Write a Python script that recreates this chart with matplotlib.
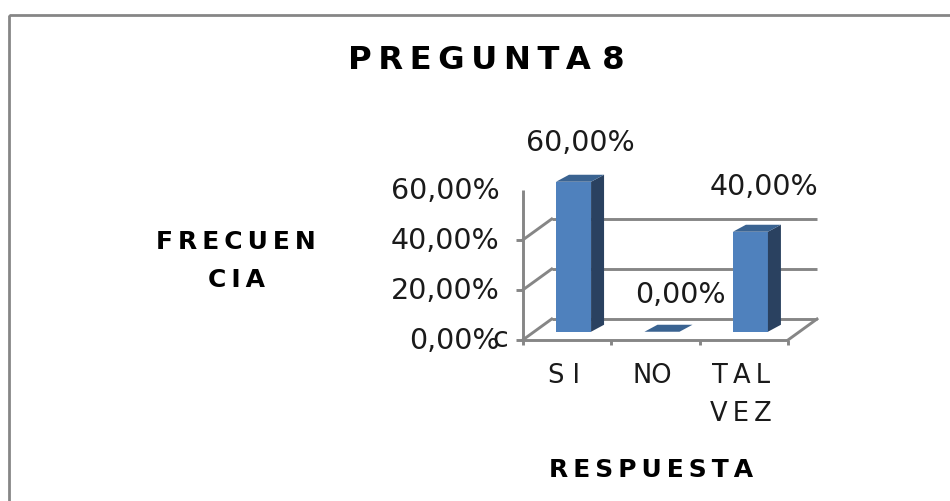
import matplotlib
matplotlib.use("Agg")
import matplotlib.pyplot as plt
from matplotlib.patches import Polygon, Rectangle

categories = ["S I", "NO", "T\u2009A\u2009L\nV\u2009E\u2009Z"]
values = [0.60, 0.00, 0.40]
value_labels = ["60,00%", "0,00%", "40,00%"]
y_ticks = [0.0, 0.2, 0.4, 0.6]
y_tick_labels = ["0,00%", "20,00%", "40,00%", "60,00%"]

W, H = 950, 501
fig = plt.figure(figsize=(W / 100, H / 100), dpi=100, facecolor="white")

# outer frame of the chart, it runs off the image on the right and bottom
bg = fig.add_axes([0, 0, 1, 1])
bg.set_xlim(0, W)
bg.set_ylim(H, 0)
bg.axis("off")
bg.add_patch(Rectangle((8.7, 14.5), 1000, 600, fill=False, ec="#868686", lw=2.0))

# axes = front plane of the 3d box
left, right, bottom, top = 522.7, 788, 340, 190
ax = fig.add_axes([left / W, 1 - bottom / H, (right - left) / W, (bottom - top) / H])
ax.set_xlim(0, 3)
ax.set_ylim(0, 0.6)
ax.patch.set_alpha(0)
for s in ax.spines.values():
    s.set_visible(False)
ax.set_xticks([])
ax.set_yticks([])

# depth of the box in data units
depth_x = 29 / (right - left) * 3
depth_y = 21 / (bottom - top) * 0.6
grid_c = "#868686"
lw = 2.1

# back gridlines and the side lines
for t in y_ticks[:3]:
    ax.plot([depth_x, 3 + depth_x], [t + depth_y, t + depth_y], color=grid_c, lw=lw, clip_on=False, solid_capstyle="butt")
    ax.plot([0, depth_x], [t, t + depth_y], color=grid_c, lw=lw, clip_on=False)
ax.plot([3, 3 + depth_x], [0, depth_y], color=grid_c, lw=lw, clip_on=False)

# front axes with ticks
ax.plot([0, 0], [0, 0.6], color=grid_c, lw=lw, clip_on=False, solid_capstyle="butt")
ax.plot([-0.08, 3], [0, 0], color=grid_c, lw=lw, clip_on=False, solid_capstyle="butt")
for t in y_ticks[1:3]:
    ax.plot([-0.08, 0], [t, t], color=grid_c, lw=lw, clip_on=False, solid_capstyle="butt")
for i in range(4):
    ax.plot([i, i], [0, -0.02], color=grid_c, lw=lw, clip_on=False, solid_capstyle="butt")

# bars
bar_w = 0.396
dx = 13 / (right - left) * 3
dy = 7 / (bottom - top) * 0.6
for i, v in enumerate(values):
    x0 = i + 0.377
    y0 = 0.033
    x1 = x0 + bar_w
    y1 = y0 + v
    if v > 0:
        ax.add_patch(Rectangle((x0, y0), bar_w, v, fc="#4f81bd", ec="none", clip_on=False, zorder=3))
        ax.add_patch(Polygon([(x1, y0), (x1 + dx, y0 + dy), (x1 + dx, y1 + dy), (x1, y1)],
                             fc="#2a4160", ec="none", clip_on=False, zorder=3))
    ax.add_patch(Polygon([(x0, y1), (x0 + dx, y1 + dy), (x1 + dx, y1 + dy), (x1, y1)],
                         fc="#3a6391", ec="none", clip_on=False, zorder=3))

font = "DejaVu Sans"
num_size = 20.5
text_c = "#1a1a1a"

for t, lab in zip(y_ticks, y_tick_labels):
    ax.text(-0.26, t - 0.006, lab, ha="right", va="center", fontsize=num_size, family=font, color=text_c)
ax.text(-0.16, 0.004, "c", ha="right", va="center", fontsize=num_size, family=font, color=text_c)

label_pos = [(0.651, 0.79), (1.78, 0.182), (2.73, 0.614)]
for (x, y), lab in zip(label_pos, value_labels):
    ax.text(x, y, lab, ha="center", va="center", fontsize=num_size, family=font, color=text_c, zorder=4)

for i, lab in enumerate(categories):
    ax.text(i + 0.47, -0.092, lab, ha="center", va="top", fontsize=18.5, family=font, color=text_c, linespacing=1.6)

bg.text(486, 60, "P\u2009R\u2009E\u2009G\u2009U\u2009N\u2009T\u2009A 8", ha="center", va="center",
        fontsize=23.2, fontweight="bold", family=font, color="black")
bg.text(236, 261, "F\u2009R\u2009E\u2009C\u2009U\u2009E\u2009N\nC\u2009I\u2009A", ha="center", va="center",
        fontsize=18, fontweight="bold", family=font, color="black", linespacing=1.72)
bg.text(651, 470, "R\u2009E\u2009S\u2009P\u2009U\u2009E\u2009S\u2009T\u2009A", ha="center", va="center",
        fontsize=18, fontweight="bold", family=font, color="black")

fig.savefig("out.png", dpi=100)
